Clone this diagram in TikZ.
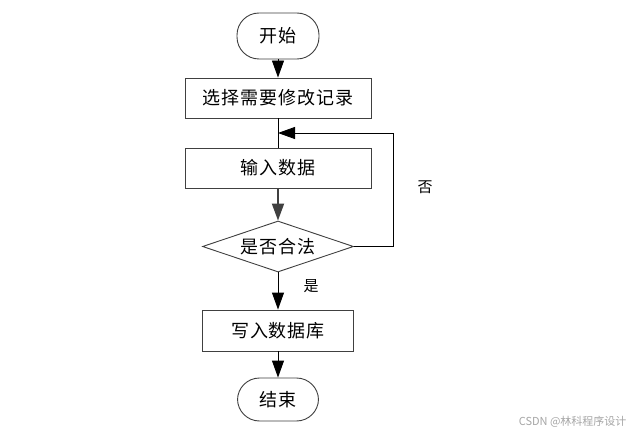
\documentclass[tikz,border=0pt]{standalone}
\usepackage{fontspec}
\setmainfont{Noto Sans CJK SC}
\newfontfamily\widecjk[LetterSpace=5]{Noto Sans CJK SC}
\usetikzlibrary{shapes.geometric,arrows.meta}
\begin{document}
\begin{tikzpicture}[x=1pt,y=-1pt,
  base/.style={draw=black!75,line width=0.9pt,inner sep=0pt,font=\widecjk\fontsize{18}{20}\selectfont},
  term/.style={base,rectangle,rounded corners=22pt,minimum width=82pt,minimum height=46pt},
  proc/.style={base,rectangle},
  dec/.style={base,diamond,aspect=2.96,minimum width=151pt,minimum height=51pt},
  conn/.style={draw=black,line width=0.9pt,-{Triangle[length=17pt,width=12pt]}},
  gconn/.style={draw=black!75,line width=1.8pt,-{Triangle[length=17pt,width=12pt]}},
  lbl/.style={font=\fontsize{15}{16}\selectfont},
  wm/.style={font=\fontsize{11}{12}\selectfont,text=black!35}]
\useasboundingbox[fill=white] (0,0) rectangle (635,433);
\node[term] (start) at (278,36) {开始};
\node[proc,minimum width=186pt,minimum height=40pt] (b1) at (278,98) {选择需要修改记录};
\node[proc,minimum width=186pt,minimum height=40pt] (b2) at (278,168) {输入数据};
\node[dec] (d) at (278,246.5) {是否合法};
\node[proc,minimum width=151pt,minimum height=41pt] (b3) at (278,330.5) {写入数据库};
\node[term,minimum width=81pt,minimum height=43pt] (end) at (278,399.5) {结束};
\coordinate (j) at (278,133);
\coordinate (r) at (393,246.5);
\draw[conn] (start) -- (b1);
\draw[draw=black,line width=0.9pt] (b1) -- (b2);
\draw[conn] (d.east) -- (r) |- (j);
\draw[gconn] (b2) -- (d);
\draw[conn] (d) -- (b3);
\draw[conn] (b3) -- (end);
\node[lbl] (no) at (425,187) {否};
\node[lbl] (yes) at (311,286) {是};
\node[wm,anchor=east] (mark) at (630,422) {CSDN @林科程序设计};
\end{tikzpicture}
\end{document}
